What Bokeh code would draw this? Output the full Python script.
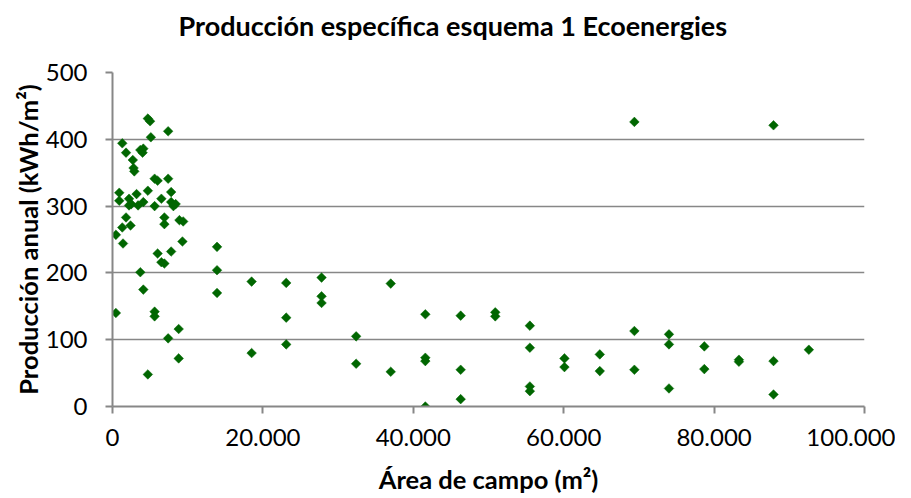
import math
from bokeh.plotting import figure
from bokeh.models import Range1d, FixedTicker, CustomJSTickFormatter, ColumnDataSource, Title
from bokeh.embed import file_html
from bokeh.resources import INLINE

# ---- data (area in m², annual production in kWh/m²) ----
area = [
    450, 450, 900, 900, 1300, 1300, 1400, 1800, 1800, 2200, 2200, 2400, 2500,
    2700, 2800, 2900, 3200, 3400, 3700, 3700, 4000, 4100, 4100, 4100, 4700,
    4700, 4700, 5000, 5100, 5600, 5600, 5600, 5600, 6000, 6000, 6500, 6500,
    6900, 6900, 6900, 7400, 7400, 7400, 7800, 7800, 7800, 8100, 8400, 8900,
    8800, 8800, 9300, 9400,
    13900, 13900, 13900,
    18500, 18500,
    23100, 23100, 23100,
    27800, 27800, 27800,
    32400, 32400,
    37000, 37000,
    41600, 41600, 41600, 41600,
    46300, 46300, 46300,
    50900, 50900,
    55500, 55500, 55500, 55500,
    60100, 60100,
    64800, 64800,
    69400, 69400, 69400,
    74000, 74000, 74000,
    78700, 78700,
    83300, 83300,
    87900, 87900, 87900,
    92600,
]
produccion = [
    140, 257, 320, 308, 394, 268, 244, 380, 283, 311, 301, 271, 303,
    369, 357, 352, 318, 301, 384, 201, 380, 386, 306, 175, 431,
    323, 48, 427, 403, 300, 341, 142, 135, 338, 229, 311, 216,
    283, 273, 214, 412, 341, 102, 306, 232, 321, 300, 303, 279,
    116, 72, 247, 277,
    239, 204, 170,
    187, 80,
    185, 133, 93,
    193, 165, 155,
    105, 64,
    184, 52,
    138, 73, 68, 0,
    136, 55, 11,
    141, 135,
    121, 88, 30, 23,
    72, 59,
    78, 53,
    426, 113, 55,
    108, 93, 27,
    90, 56,
    70, 67,
    421, 68, 18,
    85,
]
x_ticks = [0, 20000, 40000, 60000, 80000, 100000]
y_ticks = [0, 100, 200, 300, 400, 500]

title_text = "Producción específica esquema 1 Ecoenergies"
x_label = "Área de campo (m²)"
y_label = "Producción anual (kWh/m²)"

FONT = "Lato"
GRID = "#878787"
GREEN = "#006600"

FW, FH = 752, 334
p = figure(
    frame_width=FW, frame_height=FH,
    min_border_left=112, min_border_right=31,
    min_border_top=72, min_border_bottom=80,
    x_range=Range1d(0, 100000), y_range=Range1d(0, 500),
    output_backend="svg", toolbar_location=None,
    title=title_text,
)
p.outline_line_color = None
p.background_fill_color = "white"
p.border_fill_color = "white"

p.title.align = "left"
p.title.offset = 66
p.title.text_font = FONT
p.title.text_font_style = "bold"
p.title.text_font_size = "27px"
p.title.text_color = "black"

# blank spacer between title and plot frame
p.add_layout(Title(text=" ", text_font_size="15px", standoff=7), "above")

src = ColumnDataSource(dict(x=area, y=produccion))
p.scatter("x", "y", source=src, marker="square", size=6.8, angle=math.pi / 4,
          fill_color=GREEN, line_color=GREEN, line_width=0.5)

fmt = CustomJSTickFormatter(code="""
    return Math.round(tick).toString().replace(/\\B(?=(\\d{3})+(?!\\d))/g, ".");
""")

p.xaxis.ticker = FixedTicker(ticks=x_ticks)
p.yaxis.ticker = FixedTicker(ticks=y_ticks)
p.xaxis.formatter = fmt

for ax in (p.xaxis[0], p.yaxis[0]):
    ax.axis_line_color = GRID
    ax.axis_line_width = 2
    ax.major_tick_line_color = GRID
    ax.major_tick_line_width = 2
    ax.major_tick_in = 0
    ax.major_tick_out = 7
    ax.minor_tick_line_color = None
    ax.major_label_text_font = FONT
    ax.major_label_text_font_size = "24px"
    ax.major_label_text_color = "black"
    ax.axis_label_text_font = FONT
    ax.axis_label_text_font_style = "bold"
    ax.axis_label_text_font_size = "25.5px"
    ax.axis_label_text_color = "black"

p.xaxis.axis_label = x_label
p.yaxis.axis_label = y_label
p.xaxis.major_label_standoff = 15
p.yaxis.major_label_standoff = 18
p.xaxis.axis_label_standoff = 15
p.yaxis.axis_label_standoff = 0

p.xgrid.grid_line_color = None
p.ygrid.grid_line_color = GRID
p.ygrid.grid_line_width = 1.6
p.ygrid.ticker = FixedTicker(ticks=y_ticks)

open("out.html", "w").write(file_html(p, INLINE))
